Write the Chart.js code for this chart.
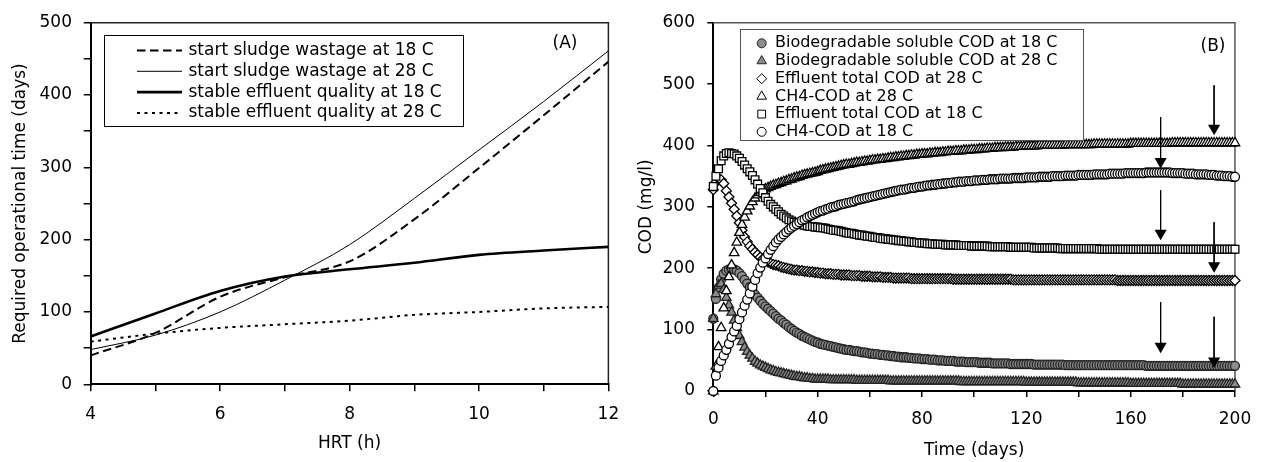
<!DOCTYPE html>
<html>
<head>
<meta charset="utf-8">
<script src="https://cdn.jsdelivr.net/npm/chart.js@4.4.1/dist/chart.umd.min.js"></script>
<style>
  body { margin: 0; background: #fff; }
  #wrap { position: relative; width: 1264px; height: 462px; }
  canvas { position: absolute; top: 0; }
  #chartA { left: 0; }
  #chartB { left: 632px; }
</style>
</head>
<body>
<div id="wrap">
  <canvas id="chartA" width="632" height="462"></canvas>
  <canvas id="chartB" width="632" height="462"></canvas>
</div>
<script>
// ---- panel (A): required operational time vs HRT ----
const hrt = [4, 5, 6, 7, 8, 9, 10, 11, 12];
const startSludge18 = [40, 71, 121, 148, 170, 228, 299, 372, 446];
const startSludge28 = [48, 68, 100, 144, 193, 257, 324, 391, 461];
const stableEffluent18 = [66, 98, 129, 149, 159, 168, 179, 185, 190];
const stableEffluent28 = [59, 70, 78, 83, 88, 96, 100, 105, 107];

// ---- panel (B): COD over time, one value per day 0..200 ----
const days = [];
for (let d = 0; d <= 200; d++) days.push(d);

const bioSol18 = [
  118,150,168,182,191,196,198,199,198,196,
  192,187,181,175,169,163,157,152,147,142,
  138,134,130,126,122,118,115,111,108,104,
  101,98,95,93,90,88,86,84,82,80,
  79,77,76,75,74,73,72,71,70,69,
  68,67,67,66,65,65,64,63,63,62,
  61,61,60,60,59,59,58,58,57,57,
  56,56,55,55,55,54,54,53,53,53,
  52,52,52,51,51,51,50,50,50,49,
  49,49,49,48,48,48,48,47,47,47,
  47,47,46,46,46,46,46,45,45,45,
  45,45,45,45,44,44,44,44,44,44,
  44,44,44,43,43,43,43,43,43,43,
  43,43,43,43,43,42,42,42,42,42,
  42,42,42,42,42,42,42,42,42,42,
  42,42,42,42,42,42,42,42,42,42,
  42,42,42,42,42,42,41,41,41,41,
  41,41,41,41,41,41,41,41,41,41,
  41,41,41,41,41,41,41,41,41,41,
  41,41,41,41,41,41,41,41,41,41,41
];
const bioSol28 = [
  118,158,172,175,165,152,140,128,115,103,
  90,80,71,64,58,53,48,45,42,40,
  38,36,34,33,31,30,29,28,27,26,
  25,24,23,23,22,21,21,20,20,19,
  19,19,19,19,19,18,18,18,18,18,
  18,18,18,18,18,17,17,17,17,17,
  17,17,17,17,17,17,17,17,16,16,
  16,16,16,16,16,16,16,16,16,16,
  16,16,16,16,16,16,16,16,16,16,
  16,16,16,16,16,15,15,15,15,15,
  15,15,15,15,15,15,15,15,15,15,
  15,15,15,15,15,15,15,15,15,15,
  14,14,14,14,14,14,14,14,14,14,
  14,14,14,14,14,14,14,14,14,14,
  13,13,13,13,13,13,13,13,13,13,
  13,13,13,13,13,13,13,13,13,13,
  12,12,12,12,12,12,12,12,12,12,
  12,12,12,12,12,12,12,12,12,12,
  11,11,11,11,11,11,11,11,11,11,
  11,11,11,11,11,11,11,11,11,11,11
];
const effTotal28 = [
  328,340,346,344,338,326,316,306,296,285,
  274,262,251,243,236,231,226,222,218,215,
  212,210,208,206,205,204,202,201,200,199,
  198,197,197,196,196,195,195,194,194,193,
  193,192,192,191,191,191,190,190,190,189,
  189,189,189,188,188,188,188,187,187,187,
  187,186,186,186,186,185,185,185,185,184,
  184,184,184,184,184,184,183,183,183,183,
  183,183,183,183,183,183,183,183,183,183,
  183,183,182,182,182,182,182,182,182,182,
  182,182,182,182,182,182,182,182,182,182,
  182,182,182,182,182,181,181,181,181,181,
  181,181,181,181,181,181,181,181,181,181,
  181,181,181,181,181,181,181,181,181,181,
  181,181,181,181,181,181,181,181,181,181,
  181,181,181,181,181,180,180,180,180,180,
  180,180,180,180,180,180,180,180,180,180,
  180,180,180,180,180,180,180,180,180,180,
  180,180,180,180,180,180,180,180,180,180,
  180,180,180,180,180,180,180,180,180,180,180
];
const ch4Cod28 = [
  0,40,72,103,135,163,186,205,225,242,
  258,271,283,293,301,308,314,319,323,326,
  329,331,333,335,336,338,339,341,342,344,
  345,347,348,349,351,352,353,354,355,356,
  357,359,360,361,362,363,364,365,366,367,
  368,369,369,370,371,372,372,373,374,374,
  375,376,376,377,377,378,378,379,380,380,
  381,381,382,382,383,383,384,384,385,385,
  386,386,386,387,387,388,388,388,389,389,
  390,390,390,391,391,391,392,392,392,393,
  393,393,394,394,394,395,395,395,396,396,
  396,396,397,397,397,397,398,398,398,398,
  399,399,399,399,399,400,400,400,400,400,
  400,400,400,400,400,401,401,401,401,401,
  401,401,401,401,401,401,402,402,402,402,
  402,402,402,402,402,402,402,402,402,402,
  403,403,403,403,403,403,403,403,403,403,
  403,403,403,403,403,403,404,404,404,404,
  404,404,404,404,404,404,404,404,404,404,
  404,404,404,404,404,404,404,404,404,404,404
];
const effTotal18 = [
  333,350,362,375,383,387,388,387,386,383,
  379,374,368,362,357,351,344,337,330,323,
  315,309,304,300,296,292,288,285,282,279,
  277,275,274,272,271,270,269,268,268,267,
  267,266,266,265,264,263,262,262,261,260,
  259,258,257,257,256,255,254,254,253,252,
  252,251,250,250,249,248,248,247,247,246,
  246,245,245,244,244,243,243,242,242,241,
  241,241,240,240,240,239,239,239,239,238,
  238,238,238,238,237,237,237,237,237,236,
  236,236,236,236,236,236,235,235,235,235,
  235,235,235,235,234,234,234,234,234,234,
  234,234,234,233,233,233,233,233,233,233,
  233,233,233,232,232,232,232,232,232,232,
  232,232,232,232,232,232,232,232,231,231,
  231,231,231,231,231,231,231,231,231,231,
  231,231,231,231,231,231,231,231,231,231,
  231,231,231,231,231,231,231,231,231,231,
  231,231,231,231,231,231,231,231,231,231,
  231,231,231,231,231,231,231,231,231,231,231
];
const ch4Cod18 = [
  0,25,38,49,58,67,77,88,97,106,
  117,128,139,149,159,170,181,192,201,209,
  216,223,230,236,242,247,251,255,259,263,
  266,269,272,275,278,280,283,285,287,289,
  291,293,294,296,297,299,300,301,303,304,
  305,306,307,308,309,311,312,313,314,315,
  316,317,318,319,320,321,322,323,324,325,
  326,327,328,328,329,330,331,331,332,333,
  333,334,335,335,336,336,337,337,338,338,
  339,339,340,340,341,341,341,342,342,342,
  343,343,343,344,344,344,345,345,345,345,
  346,346,346,346,346,347,347,347,347,347,
  348,348,348,348,348,349,349,349,349,349,
  350,350,350,350,350,351,351,351,351,351,
  352,352,352,352,352,352,353,353,353,353,
  353,353,354,354,354,354,354,354,355,355,
  355,355,355,355,355,355,356,356,356,356,
  356,356,356,356,356,356,355,355,355,355,
  355,354,354,354,354,353,353,353,353,353,
  352,352,352,351,351,351,350,350,350,349,349
];

// arrows in panel (B): day, value at tail, value at arrow head
const arrowDay  = [171.5, 192, 171.5, 192, 171.5, 192];
const arrowTail = [446, 498, 327, 275, 145, 121];
const arrowHead = [374, 428, 257, 204, 73, 49];

Chart.defaults.font.family = '"DejaVu Sans", Arial, sans-serif';
Chart.defaults.font.size = 17;
Chart.defaults.color = '#000';

// top / right frame and the panel letter
const framePlugin = {
  id: 'frame',
  beforeDatasetsDraw(chart, args, o) {
    const {ctx, chartArea: a} = chart;
    ctx.save();
    ctx.strokeStyle = o.color;
    ctx.lineWidth = o.width;
    ctx.beginPath();
    ctx.moveTo(a.left, a.top);
    ctx.lineTo(a.right, a.top);
    ctx.lineTo(a.right, a.bottom);
    ctx.stroke();
    ctx.restore();
  },
  afterDraw(chart, args, o) {
    const ctx = chart.ctx;
    ctx.save();
    ctx.fillStyle = '#000';
    ctx.font = o.font;
    ctx.textAlign = 'center';
    ctx.textBaseline = 'middle';
    ctx.fillText(o.text, o.x, o.y);
    ctx.restore();
  }
};

// boxed legend drawn inside the plot, built from the labelled datasets
const boxLegend = {
  id: 'boxLegend',
  afterDatasetsDraw(chart, args, o) {
    const ctx = chart.ctx;
    const items = chart.data.datasets.filter(ds => ds.label);
    const [x0, y0, x1, y1] = o.box;
    ctx.save();
    ctx.fillStyle = '#fff';
    ctx.fillRect(x0, y0, x1 - x0, y1 - y0);
    ctx.strokeStyle = o.boxColor;
    ctx.lineWidth = 1;
    ctx.strokeRect(Math.round(x0) + 0.5, Math.round(y0) + 0.5, Math.round(x1 - x0), Math.round(y1 - y0));
    ctx.font = o.font;
    ctx.textAlign = 'left';
    ctx.textBaseline = 'middle';
    items.forEach((ds, i) => {
      const y = o.firstRow + i * o.rowStep;
      if (o.kind === 'line') {
        ctx.setLineDash(ds.borderDash || []);
        ctx.lineWidth = ds.borderWidth;
        ctx.strokeStyle = ds.borderColor;
        ctx.beginPath();
        ctx.moveTo(o.sample[0], y);
        ctx.lineTo(o.sample[1], y);
        ctx.stroke();
        ctx.setLineDash([]);
      } else {
        ctx.fillStyle = ds.pointBackgroundColor;
        ctx.strokeStyle = ds.pointBorderColor;
        ctx.lineWidth = 1;
        Chart.helpers.drawPoint(ctx, {
          pointStyle: ds.pointStyle, radius: ds.pointRadius,
          rotation: 0, borderWidth: 1
        }, o.sample[0], y);
      }
      ctx.fillStyle = '#000';
      ctx.fillText(ds.label, o.textX, y);
    });
    ctx.restore();
  }
};

function axisStyle(extra) {
  return Object.assign({
    border: {display: true, color: '#000', width: 2},
    grid: {drawOnChartArea: false, drawTicks: true, tickLength: 7, color: '#000', lineWidth: 1.5}
  }, extra);
}

// ---------- chart A ----------
const lineSet = (label, vals, width, dash) => ({
  label, data: hrt.map((h, i) => ({x: h, y: vals[i]})),
  borderColor: '#000', borderWidth: width, borderDash: dash,
  pointRadius: 0, fill: false, cubicInterpolationMode: 'monotone'
});

new Chart(document.getElementById('chartA'), {
  type: 'line',
  data: {
    datasets: [
      lineSet('start sludge wastage at 18 C', startSludge18, 2, [8.5, 4.5]),
      lineSet('start sludge wastage at 28 C', startSludge28, 1, []),
      lineSet('stable effluent quality at 18 C', stableEffluent18, 2.6, []),
      lineSet('stable effluent quality at 28 C', stableEffluent28, 2, [3, 4.5])
    ]
  },
  options: {
    responsive: false, animation: false, devicePixelRatio: 1, events: [],
    layout: {padding: {left: 0, right: 16, top: 22.7, bottom: 0}},
    scales: {
      x: axisStyle({
        type: 'linear', min: 4, max: 12,
        ticks: {stepSize: 1, autoSkip: false, maxRotation: 0, padding: 12.8,
                callback: v => (v % 2 === 0 ? v : '')},
        title: {display: true, text: 'HRT (h)', padding: {top: 0, bottom: 8}},
        afterFit: s => { s.height = 77.7; }
      }),
      y: axisStyle({
        min: 0, max: 500,
        ticks: {stepSize: 50, padding: 11.7, callback: v => (v % 100 === 0 ? v : '')},
        title: {display: true, text: 'Required operational time (days)', padding: {top: 10, bottom: 0}},
        afterFit: s => { s.width = 90.7; }
      })
    },
    plugins: {
      legend: {display: false},
      tooltip: {enabled: false},
      frame: {color: '#222', width: 1.5, text: '(A)', x: 565, y: 43.5, font: '17px "DejaVu Sans"'},
      boxLegend: {kind: 'line', box: [104, 35, 463, 126], boxColor: '#000',
                  font: '17px "DejaVu Sans"', firstRow: 50.5, rowStep: 20.8,
                  sample: [137, 182], textX: 188.5}
    }
  },
  plugins: [framePlugin, boxLegend]
});

// ---------- chart B ----------
const markerSet = (label, vals, style, radius, fillColor, edgeColor, order) => ({
  label, data: days.map((d, i) => ({x: d, y: vals[i]})),
  showLine: false, pointStyle: style, pointRadius: radius,
  pointBackgroundColor: fillColor, pointBorderColor: edgeColor, pointBorderWidth: 1.3,
  clip: false, order
});

const arrowSets = arrowDay.map((d, i) => ({
  data: [{x: d, y: arrowTail[i]}, {x: d, y: arrowHead[i]}],
  borderColor: '#000', borderWidth: 1, showLine: true,
  pointRadius: [0, 7], pointStyle: 'triangle', rotation: 180,
  pointBackgroundColor: '#000', pointBorderWidth: 0, clip: false, order: 0
}));

new Chart(document.getElementById('chartB'), {
  type: 'line',
  data: {
    datasets: [
      markerSet('Biodegradable soluble COD at 18 C', bioSol18, 'circle', 4.5, '#8c8c8c', '#222', 6),
      markerSet('Biodegradable soluble COD at 28 C', bioSol28, 'triangle', 5.5, '#8c8c8c', '#222', 5),
      markerSet('Effluent total COD at 28 C', effTotal28, 'rectRot', 5, '#fff', '#000', 4),
      markerSet('CH4-COD at 28 C', ch4Cod28, 'triangle', 5.5, '#fff', '#000', 3),
      markerSet('Effluent total COD at 18 C', effTotal18, 'rect', 5.5, '#fff', '#000', 2),
      markerSet('CH4-COD at 18 C', ch4Cod18, 'circle', 4.5, '#fff', '#000', 1)
    ].concat(arrowSets)
  },
  options: {
    responsive: false, animation: false, devicePixelRatio: 1, events: [],
    layout: {padding: {left: 0, right: 21, top: 22.7, bottom: 0}},
    scales: {
      x: axisStyle({
        type: 'linear', min: 0, max: 200,
        ticks: {stepSize: 20, autoSkip: false, maxRotation: 0, padding: 12.8,
                callback: v => (v % 40 === 0 ? v : '')},
        grid: {drawOnChartArea: false, drawTicks: true, tickLength: 6, color: '#000', lineWidth: 1.5},
        title: {display: true, text: 'Time (days)', padding: {top: 0, bottom: 1}},
        afterFit: s => { s.height = 71; }
      }),
      y: axisStyle({
        min: 0, max: 600,
        ticks: {stepSize: 100, padding: 12.3},
        grid: {drawOnChartArea: false, drawTicks: true, tickLength: 6, color: '#000', lineWidth: 1.5},
        title: {display: true, text: 'COD (mg/l)', padding: {top: 4, bottom: 0}},
        afterFit: s => { s.width = 81.3; }
      })
    },
    plugins: {
      legend: {display: false},
      tooltip: {enabled: false},
      frame: {color: '#555', width: 1.5, text: '(B)', x: 581, y: 46.5, font: '17px "DejaVu Sans"'},
      boxLegend: {kind: 'point', box: [108, 29, 450.7, 140], boxColor: '#555',
                  font: '16px "DejaVu Sans"', firstRow: 43.3, rowStep: 17.7,
                  sample: [129.7], textX: 143}
    }
  },
  plugins: [framePlugin, boxLegend]
});
</script>
</body>
</html>
